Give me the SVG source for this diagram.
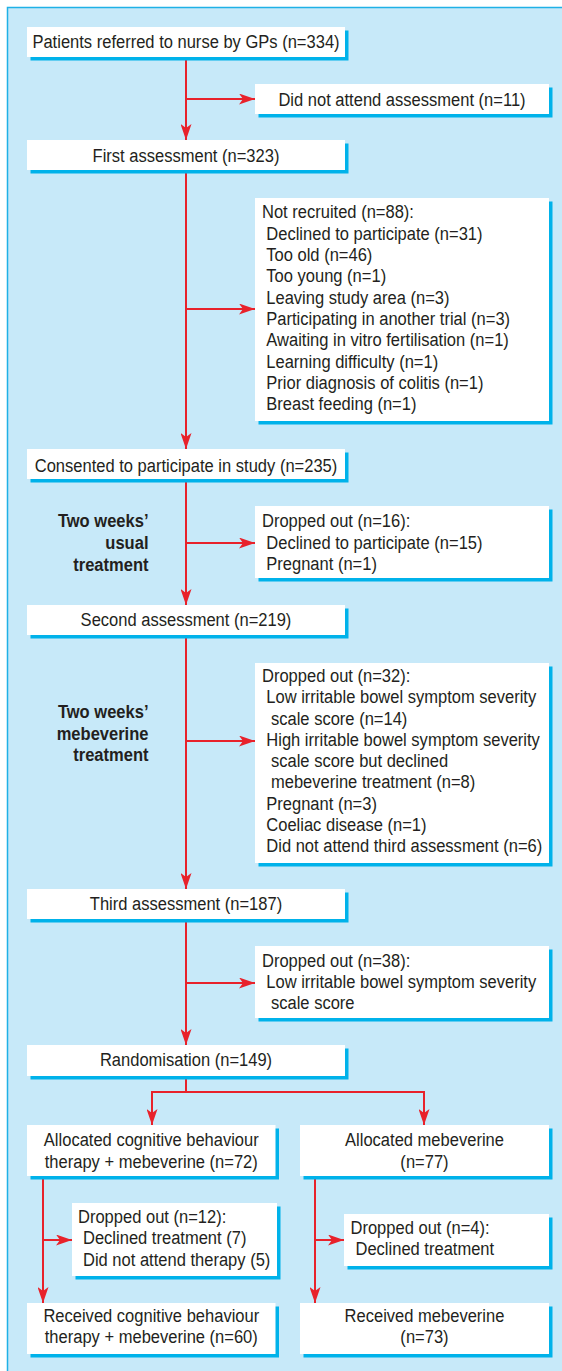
<svg xmlns="http://www.w3.org/2000/svg" width="562" height="1371" viewBox="0 0 562 1371">
<style>
.panel{fill:#c7e9f9;stroke:#1fb1e6;stroke-width:1.5}
.sh{fill:#00b2ea}
.bx{fill:#ffffff}
.t{font-family:"Liberation Sans",Arial,sans-serif;font-size:19px;fill:#231f20;transform-box:fill-box;transform:scaleX(0.87);transform-origin:left center}
.c{text-anchor:middle;transform-origin:center center}
.b{font-weight:bold;text-anchor:end;transform-origin:right center}
.ln{fill:none;stroke:#e8222b;stroke-width:2}
</style>
<defs>
<marker id="ah" markerUnits="userSpaceOnUse" markerWidth="16" markerHeight="11" refX="16" refY="5.5" orient="auto">
<path d="M0,0 L16,5.5 L0,11 L4,5.5 z" fill="#e8222b"/>
</marker>
</defs>
<rect x="0" y="0" width="562" height="1371" fill="#ffffff"/>
<rect class="panel" x="7.5" y="7.5" width="570" height="1380"/>

<g id="connectors">
<path class="ln" d="M186,57 V140" marker-end="url(#ah)"/>
<path class="ln" d="M186,99 H255" marker-end="url(#ah)"/>
<path class="ln" d="M186,170 V449" marker-end="url(#ah)"/>
<path class="ln" d="M186,309 H255" marker-end="url(#ah)"/>
<path class="ln" d="M186,479 V605" marker-end="url(#ah)"/>
<path class="ln" d="M186,543 H255" marker-end="url(#ah)"/>
<path class="ln" d="M186,635 V889" marker-end="url(#ah)"/>
<path class="ln" d="M186,741 H255" marker-end="url(#ah)"/>
<path class="ln" d="M186,919 V1045" marker-end="url(#ah)"/>
<path class="ln" d="M186,983 H255" marker-end="url(#ah)"/>
<path class="ln" d="M186,1076 V1092 M152,1092 H424"/>
<path class="ln" d="M152,1091 V1125" marker-end="url(#ah)"/>
<path class="ln" d="M424,1091 V1125" marker-end="url(#ah)"/>
<path class="ln" d="M43,1176 V1303" marker-end="url(#ah)"/>
<path class="ln" d="M43,1240 H72" marker-end="url(#ah)"/>
<path class="ln" d="M315,1176 V1303" marker-end="url(#ah)"/>
<path class="ln" d="M315,1240 H344" marker-end="url(#ah)"/>
</g>

<g id="n_referred">
<rect class="sh" x="30.5" y="30.5" width="318" height="30"/>
<rect class="bx" x="27" y="27" width="318" height="30"/>
<text class="t c" x="186" y="48.5">Patients referred to nurse by GPs (n=334)</text>
</g>
<g id="n_dna">
<rect class="sh" x="258.5" y="87.5" width="294" height="30"/>
<rect class="bx" x="255" y="84" width="294" height="30"/>
<text class="t c" x="402" y="106">Did not attend assessment (n=11)</text>
</g>
<g id="n_first">
<rect class="sh" x="30.5" y="143.5" width="318" height="30"/>
<rect class="bx" x="27" y="140" width="318" height="30"/>
<text class="t c" x="186" y="162.3">First assessment (n=323)</text>
</g>
<g id="n_notrecruited">
<rect class="sh" x="258.5" y="201.5" width="294" height="223"/>
<rect class="bx" x="255" y="198" width="294" height="223"/>
<text class="t" x="262" y="218.5">Not recruited (n=88):</text>
<text class="t" x="266.3" y="239.8">Declined to participate (n=31)</text>
<text class="t" x="266.3" y="261.1">Too old (n=46)</text>
<text class="t" x="266.3" y="282.4">Too young (n=1)</text>
<text class="t" x="266.3" y="303.7">Leaving study area (n=3)</text>
<text class="t" x="266.3" y="325">Participating in another trial (n=3)</text>
<text class="t" x="266.3" y="346.3">Awaiting in vitro fertilisation (n=1)</text>
<text class="t" x="266.3" y="367.6">Learning difficulty (n=1)</text>
<text class="t" x="266.3" y="388.9">Prior diagnosis of colitis (n=1)</text>
<text class="t" x="266.3" y="410.2">Breast feeding (n=1)</text>
</g>
<g id="n_consented">
<rect class="sh" x="30.5" y="452.5" width="318" height="30"/>
<rect class="bx" x="27" y="449" width="318" height="30"/>
<text class="t c" x="186" y="471.7">Consented to participate in study (n=235)</text>
</g>
<g id="l_usual">
<text class="t b" x="148.5" y="527.3">Two weeks’</text>
<text class="t b" x="148.5" y="549">usual</text>
<text class="t b" x="148.5" y="570.7">treatment</text>
</g>
<g id="n_drop16">
<rect class="sh" x="258.5" y="509.5" width="294" height="72"/>
<rect class="bx" x="255" y="506" width="294" height="72"/>
<text class="t" x="262" y="527.3">Dropped out (n=16):</text>
<text class="t" x="266.3" y="548.6">Declined to participate (n=15)</text>
<text class="t" x="266.3" y="570">Pregnant (n=1)</text>
</g>
<g id="n_second">
<rect class="sh" x="30.5" y="608.5" width="318" height="30"/>
<rect class="bx" x="27" y="605" width="318" height="30"/>
<text class="t c" x="186" y="626.5">Second assessment (n=219)</text>
</g>
<g id="l_mebeverine">
<text class="t b" x="148.5" y="718.3">Two weeks’</text>
<text class="t b" x="148.5" y="740">mebeverine</text>
<text class="t b" x="148.5" y="761.3">treatment</text>
</g>
<g id="n_drop32">
<rect class="sh" x="258.5" y="666.5" width="294" height="200"/>
<rect class="bx" x="255" y="663" width="294" height="200"/>
<text class="t" x="262" y="682.3">Dropped out (n=32):</text>
<text class="t" x="266.3" y="703.5">Low irritable bowel symptom severity</text>
<text class="t" x="271" y="724.8">scale score (n=14)</text>
<text class="t" x="266.3" y="746">High irritable bowel symptom severity</text>
<text class="t" x="271" y="767.3">scale score but declined</text>
<text class="t" x="271" y="788.5">mebeverine treatment (n=8)</text>
<text class="t" x="266.3" y="809.8">Pregnant (n=3)</text>
<text class="t" x="266.3" y="831">Coeliac disease (n=1)</text>
<text class="t" x="266.3" y="852.3">Did not attend third assessment (n=6)</text>
</g>
<g id="n_third">
<rect class="sh" x="30.5" y="892.5" width="318" height="30"/>
<rect class="bx" x="27" y="889" width="318" height="30"/>
<text class="t c" x="186" y="910.3">Third assessment (n=187)</text>
</g>
<g id="n_drop38">
<rect class="sh" x="258.5" y="949.5" width="294" height="72"/>
<rect class="bx" x="255" y="946" width="294" height="72"/>
<text class="t" x="262" y="966.7">Dropped out (n=38):</text>
<text class="t" x="266.3" y="988">Low irritable bowel symptom severity</text>
<text class="t" x="271" y="1009.3">scale score</text>
</g>
<g id="n_random">
<rect class="sh" x="30.5" y="1048.5" width="318" height="31"/>
<rect class="bx" x="27" y="1045" width="318" height="31"/>
<text class="t c" x="186" y="1066">Randomisation (n=149)</text>
</g>
<g id="n_alloc_cbt">
<rect class="sh" x="30.5" y="1128.5" width="248.5" height="51"/>
<rect class="bx" x="27" y="1125" width="248.5" height="51"/>
<text class="t c" x="151.3" y="1146">Allocated cognitive behaviour</text>
<text class="t c" x="151.3" y="1168.3">therapy + mebeverine (n=72)</text>
</g>
<g id="n_alloc_meb">
<rect class="sh" x="303.5" y="1128.5" width="249" height="51"/>
<rect class="bx" x="300" y="1125" width="249" height="51"/>
<text class="t c" x="424.5" y="1146">Allocated mebeverine</text>
<text class="t c" x="424.5" y="1168.3">(n=77)</text>
</g>
<g id="n_drop12">
<rect class="sh" x="75.5" y="1206.5" width="205" height="73"/>
<rect class="bx" x="72" y="1203" width="205" height="73"/>
<text class="t" x="78" y="1223.3">Dropped out (n=12):</text>
<text class="t" x="83" y="1244.5">Declined treatment (7)</text>
<text class="t" x="83" y="1265.7">Did not attend therapy (5)</text>
</g>
<g id="n_drop4">
<rect class="sh" x="347.5" y="1217.5" width="205" height="52"/>
<rect class="bx" x="344" y="1214" width="205" height="52"/>
<text class="t" x="350.5" y="1234">Dropped out (n=4):</text>
<text class="t" x="355.5" y="1255.2">Declined treatment</text>
</g>
<g id="n_recv_cbt">
<rect class="sh" x="30.5" y="1306.5" width="248.5" height="51"/>
<rect class="bx" x="27" y="1303" width="248.5" height="51"/>
<text class="t c" x="151.3" y="1322.3">Received cognitive behaviour</text>
<text class="t c" x="151.3" y="1343.5">therapy + mebeverine (n=60)</text>
</g>
<g id="n_recv_meb">
<rect class="sh" x="303.5" y="1306.5" width="249" height="51"/>
<rect class="bx" x="300" y="1303" width="249" height="51"/>
<text class="t c" x="424.5" y="1322.3">Received mebeverine</text>
<text class="t c" x="424.5" y="1343.5">(n=73)</text>
</g>
</svg>
